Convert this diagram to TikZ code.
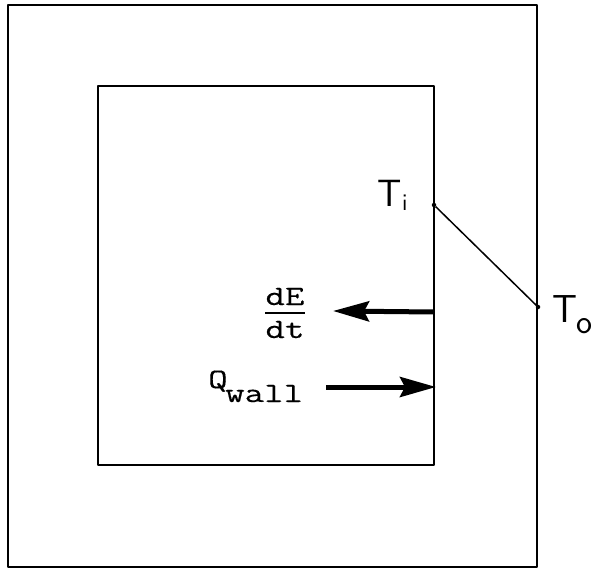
\documentclass[tikz,border=0pt]{standalone}
\usepackage{fontspec}
\newfontfamily\courfont{Latin Modern Mono}[FakeStretch=1.35, FakeBold=0.3]
\usetikzlibrary{arrows.meta}
\tikzset{
  wall/.style={line width=2.4pt, line join=round},
  flow/.style={line width=5pt, -{Stealth[length=36pt,width=20pt,inset=5pt]}, shorten >=-1pt},
  tfont/.style={font=\sffamily\fontsize{38}{40}\selectfont, inner sep=0pt},
  ttlabel/.style={font=\courfont\fontsize{28}{29}\selectfont, inner sep=0pt},
  dotp/.style={circle, fill, inner sep=0pt, minimum size=4.5pt}
}
\begin{document}
\begin{tikzpicture}[x=1pt,y=-1pt]
\useasboundingbox (0,0) rectangle (591,569);
% outer and inner boxes
\draw[wall] (8,5) rectangle (537,567);
\draw[wall] (98,86) rectangle (434,465);
% temperature profile
\node[dotp] (ti) at (434,205) {};
\node[dotp] (to) at (538,307) {};
\draw[line width=1.5pt] (ti) -- (to);
\node[tfont, anchor=base west] (tilab) at (377,207) {T};
\node[tfont, anchor=base west, font=\sffamily\fontsize{24}{25}\selectfont] (tisub) at (402,211) {i};
\node[tfont, anchor=base west, font=\sffamily\fontsize{39}{40}\selectfont] (tolab) at (552,322) {T};
\node[tfont, anchor=base west, font=\sffamily\fontsize{34}{36}\selectfont] (tosub) at (576,333) {o};
% flows
\coordinate (dEa) at (434,312);
\coordinate (dEb) at (334,311);
\draw[flow] (dEa) -- (dEb);
\coordinate (qa) at (326,387);
\coordinate (qb) at (435,387);
\draw[flow] (qa) -- (qb);
% labels
\node[ttlabel, anchor=base] (dE) at (285,305) {dE};
\node[ttlabel, anchor=base] (dt) at (285,338) {dt};
\coordinate (barl) at (265,313);
\coordinate (barr) at (305,313);
\draw[line width=1.8pt] (barl) -- (barr);
\node[ttlabel, anchor=base west] (Q) at (208,388) {Q};
\node[ttlabel, anchor=base west] (wall) at (225,402) {wall};
\end{tikzpicture}
\end{document}
